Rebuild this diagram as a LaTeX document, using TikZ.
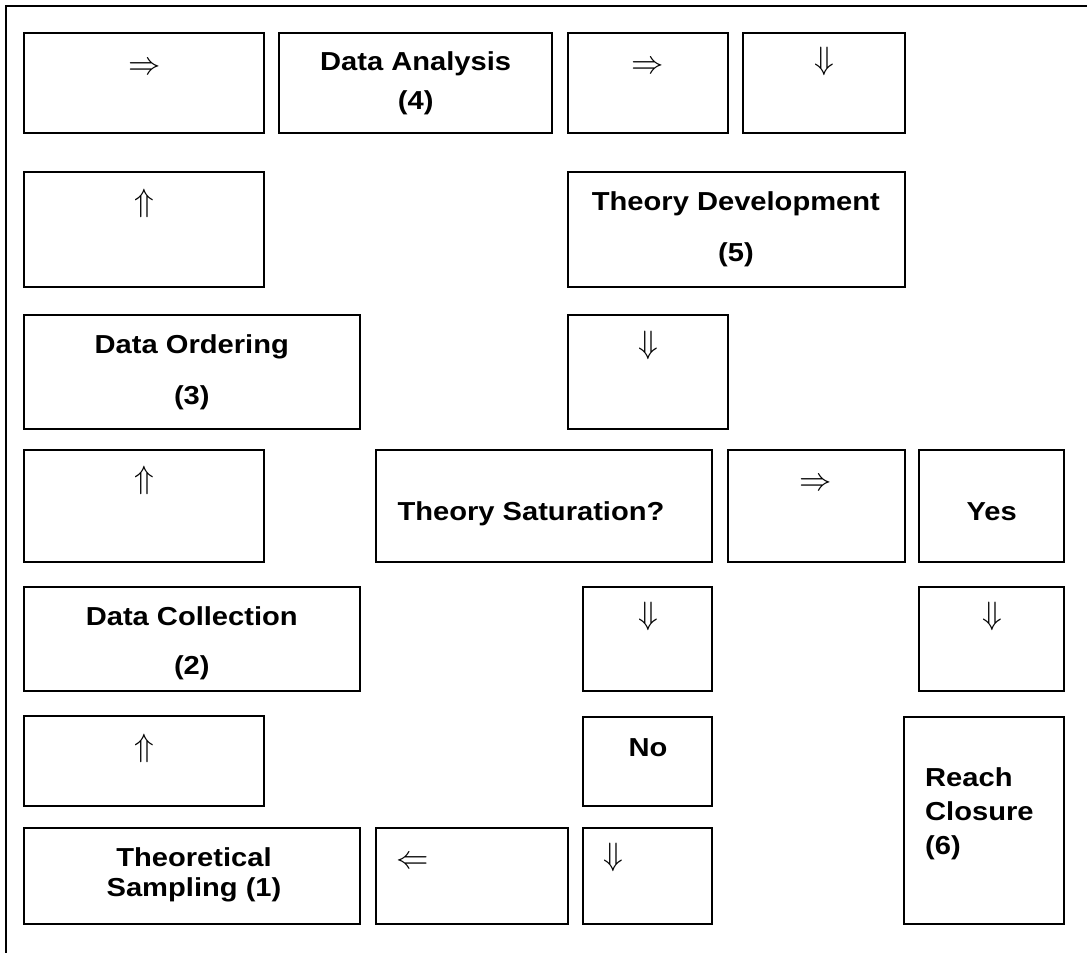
\documentclass[tikz,border=0pt]{standalone}
\usepackage{fontspec}
\newfontfamily\lblfont{Liberation Sans}[FakeStretch=1.12]
\newcommand{\arrglyph}[1]{\scalebox{1.3}{$#1$}}
\tikzset{
  box/.style={draw=black, line width=2pt, inner sep=0pt, outer sep=0pt, fill=white},
  txt/.style={font=\lblfont\bfseries\fontsize{26}{30}\selectfont, inner sep=0pt, anchor=base},
  txtl/.style={txt, anchor=base west},
  arr/.style={font=\fontsize{24.88}{28}\selectfont, inner sep=0pt, anchor=center},
  frame/.style={line width=2pt, line cap=rect}
}
\newcommand{\bx}[5]{%
  \pgfmathsetmacro{\myBW}{#4-#2}\pgfmathsetmacro{\myBH}{#5-#3}%
  \node[box, minimum width=\myBW pt, minimum height=\myBH pt] (#1) at ({(#2+#4)/2},{(#3+#5)/2}) {};}
\begin{document}
\begin{tikzpicture}[x=1pt, y=-1pt]
\useasboundingbox (0,0) rectangle (1087,953);
\coordinate (fbl) at (6.4,953);
\coordinate (ftl) at (6.4,6.4);
\coordinate (ftr) at (1087,6.4);
\draw[frame] (fbl) -- (ftl) -- (ftr);
% boxes
\bx{b1}{23.6}{32.5}{264.3}{133}
\bx{da}{279.3}{32.5}{552}{133}
\bx{b3}{567.5}{32.5}{728.4}{133}
\bx{b4}{743.4}{32.5}{904.6}{133}
\bx{b5}{23.6}{172.3}{264.3}{286.7}
\bx{td}{567.5}{172.3}{904.6}{286.7}
\bx{do}{23.6}{315}{360}{429}
\bx{b8}{567.5}{315}{728.4}{429}
\bx{b9}{23.6}{450}{264.3}{562}
\bx{ts}{375.7}{450}{712}{562}
\bx{b11}{728}{450}{904.6}{562}
\bx{yes}{919.3}{450}{1064}{562}
\bx{dc}{23.6}{587}{360}{690.5}
\bx{b14}{583.3}{587}{712.4}{690.5}
\bx{b15}{919.3}{587}{1064}{690.5}
\bx{b16}{23.6}{716}{264.3}{806}
\bx{no}{583.3}{716.5}{712.4}{806}
\bx{tsa}{23.6}{828.3}{360}{924.3}
\bx{b19}{375.7}{828.3}{568}{924.3}
\bx{b20}{583.3}{828.3}{712.4}{924.3}
\bx{rc}{904}{716.5}{1064}{924.3}
% arrow glyphs
\node[arr] (a1) at (144.2,68.4) {\arrglyph{\Rightarrow}};
\node[arr] (a3) at (648,67.5) {\arrglyph{\Rightarrow}};
\node[arr] (a4) at (824,61) {\arrglyph{\Downarrow}};
\node[arr] (a5) at (144.6,203) {\arrglyph{\Uparrow}};
\node[arr] (a8) at (648,345.5) {\arrglyph{\Downarrow}};
\node[arr] (a9) at (144.6,480) {\arrglyph{\Uparrow}};
\node[arr] (a11) at (816,485) {\arrglyph{\Rightarrow}};
\node[arr] (a14) at (648,616) {\arrglyph{\Downarrow}};
\node[arr] (a15) at (992,616) {\arrglyph{\Downarrow}};
\node[arr] (a16) at (144.6,748) {\arrglyph{\Uparrow}};
\node[arr] (a19) at (413,863) {\arrglyph{\Leftarrow}};
\node[arr] (a20) at (613.3,857) {\arrglyph{\Downarrow}};
% labels
\node[txt] (da1) at (415.7,70) {Data Analysis};
\node[txt] (da2) at (415.7,109) {(4)};
\node[txt] (td1) at (735.9,210.7) {Theory Development};
\node[txt] (td2) at (735.9,261) {(5)};
\node[txt] (do1) at (191.8,353.3) {Data Ordering};
\node[txt] (do2) at (191.8,404.5) {(3)};
\node[txt] (ts1) at (531,520.7) {Theory Saturation?};
\node[txt] (yes1) at (991.7,520) {Yes};
\node[txt] (dc1) at (191.8,625) {Data Collection};
\node[txt] (dc2) at (191.8,674.5) {(2)};
\node[txt] (no1) at (648,756) {No};
\node[txt] (tsa1) at (194,866.7) {Theoretical};
\node[txt] (tsa2) at (194,896.7) {Sampling (1)};
\node[txtl] (rc1) at (925,786.7) {Reach};
\node[txtl] (rc2) at (925,820) {Closure};
\node[txtl] (rc3) at (925,854) {(6)};
\end{tikzpicture}
\end{document}
